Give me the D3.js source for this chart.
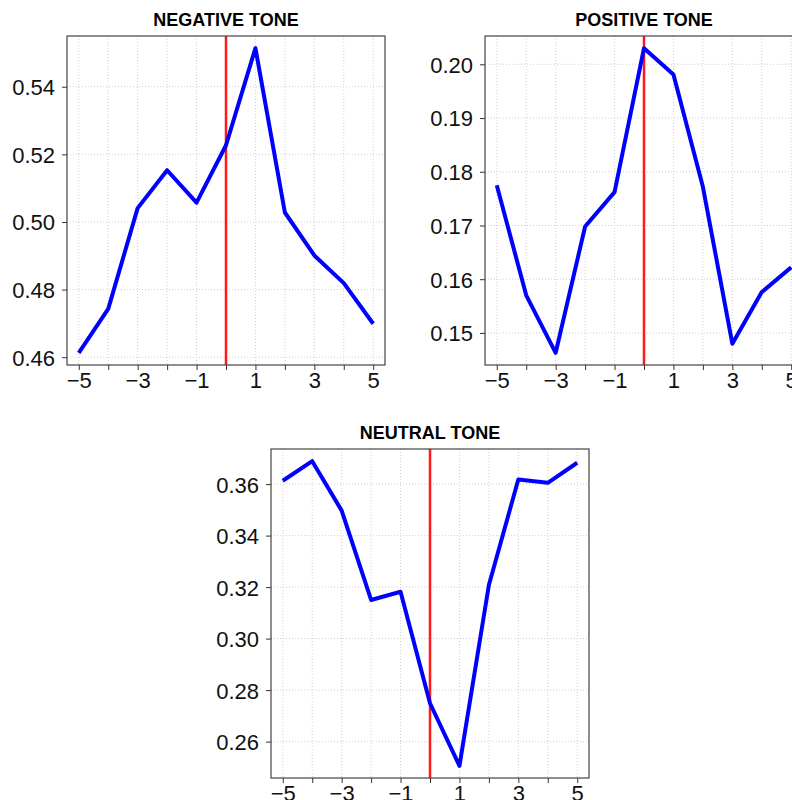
<!DOCTYPE html>
<html>
<head>
<meta charset="utf-8">
<script src="https://cdn.jsdelivr.net/npm/d3@7"></script>
<style>
  body { margin: 0; background: #fff; }
  svg { display: block; font-family: "Liberation Sans", Arial, sans-serif; }
</style>
</head>
<body>
<svg id="chart" width="792" height="800"></svg>
<script>
// event days
var days = [-5, -4, -3, -2, -1, 0, 1, 2, 3, 4, 5];

// share of each tone per day
var negativeTone = [0.4613, 0.4743, 0.5041, 0.5153, 0.5057, 0.5227, 0.5514, 0.5028, 0.4901, 0.4819, 0.4699];
var positiveTone = [0.1775, 0.1570, 0.1463, 0.1698, 0.1762, 0.2030, 0.1981, 0.1772, 0.1480, 0.1576, 0.1622];
var neutralTone  = [0.3613, 0.3689, 0.3497, 0.3150, 0.3182, 0.2749, 0.2506, 0.3208, 0.3618, 0.3605, 0.3683];

var xLabels = [-5, -3, -1, 1, 3, 5];
var negTicks = [0.46, 0.48, 0.50, 0.52, 0.54];
var posTicks = [0.15, 0.16, 0.17, 0.18, 0.19, 0.20];
var neuTicks = [0.26, 0.28, 0.30, 0.32, 0.34, 0.36];

var panels = [
    { title: 'NEGATIVE TONE', values: negativeTone, ticks: negTicks, x: 67, y: 36 },
    { title: 'POSITIVE TONE', values: positiveTone, ticks: posTicks, x: 485, y: 36 },
    { title: 'NEUTRAL TONE', values: neutralTone, ticks: neuTicks, x: 271, y: 449 }
];

var boxW = 318, boxH = 329;
var svg = d3.select('#chart');

panels.forEach(function(p) {
    var g = svg.append('g').attr('transform', 'translate(' + p.x + ',' + p.y + ')');

    // R style 4% padding on each side
    var ext = d3.extent(p.values);
    var pad = (ext[1] - ext[0]) * 0.04;
    var x = d3.scaleLinear().domain([-5.4, 5.4]).range([0, boxW]);
    var y = d3.scaleLinear().domain([ext[0] - pad, ext[1] + pad]).range([boxH, 0]);

    // grid
    g.append('g').selectAll('line')
        .data(days)
        .enter().append('line')
        .attr('x1', d => x(d)).attr('x2', d => x(d))
        .attr('y1', 0).attr('y2', boxH)
        .attr('stroke', '#d0d0d0').attr('stroke-dasharray', '1,2');
    g.append('g').selectAll('line')
        .data(p.ticks)
        .enter().append('line')
        .attr('x1', 0).attr('x2', boxW)
        .attr('y1', d => y(d)).attr('y2', d => y(d))
        .attr('stroke', '#d0d0d0').attr('stroke-dasharray', '1,2');

    // axes
    var xAxis = d3.axisBottom(x)
        .tickValues(days)
        .tickSize(5)
        .tickPadding(1)
        .tickFormat(function(d) { return xLabels.indexOf(d) >= 0 ? d3.format('d')(d) : ''; });
    var gx = g.append('g').attr('transform', 'translate(0,' + boxH + ')').call(xAxis);

    var yAxis = d3.axisLeft(y)
        .tickValues(p.ticks)
        .tickSize(5)
        .tickPadding(7)
        .tickFormat(d3.format('.2f'));
    var gy = g.append('g').call(yAxis);

    [gx, gy].forEach(function(a) {
        a.select('.domain').remove();
        a.selectAll('line').attr('stroke', '#333');
        a.selectAll('text').attr('font-size', 22).attr('fill', '#111')
            .attr('font-family', '"Liberation Sans", Arial, sans-serif');
    });
    gx.selectAll('text').attr('dy', '0.76em');
    gy.selectAll('text').attr('dy', '0.36em');

    // red event line at day 0
    g.append('line')
        .attr('x1', x(0)).attr('x2', x(0))
        .attr('y1', 0).attr('y2', boxH)
        .attr('stroke', '#ff1a1a').attr('stroke-width', 2.5);

    // the series
    var line = d3.line()
        .x(function(d, i) { return x(days[i]); })
        .y(function(d) { return y(d); });
    g.append('path')
        .datum(p.values)
        .attr('d', line)
        .attr('fill', 'none')
        .attr('stroke', '#0000ff')
        .attr('stroke-width', 4)
        .attr('stroke-linejoin', 'round');

    // frame
    g.append('rect')
        .attr('width', boxW).attr('height', boxH)
        .attr('fill', 'none').attr('stroke', '#444').attr('stroke-width', 1.2);

    g.append('text')
        .attr('x', boxW / 2).attr('y', -10)
        .attr('text-anchor', 'middle')
        .attr('font-size', 18).attr('font-weight', 'bold')
        .text(p.title);
});
</script>
</body>
</html>
